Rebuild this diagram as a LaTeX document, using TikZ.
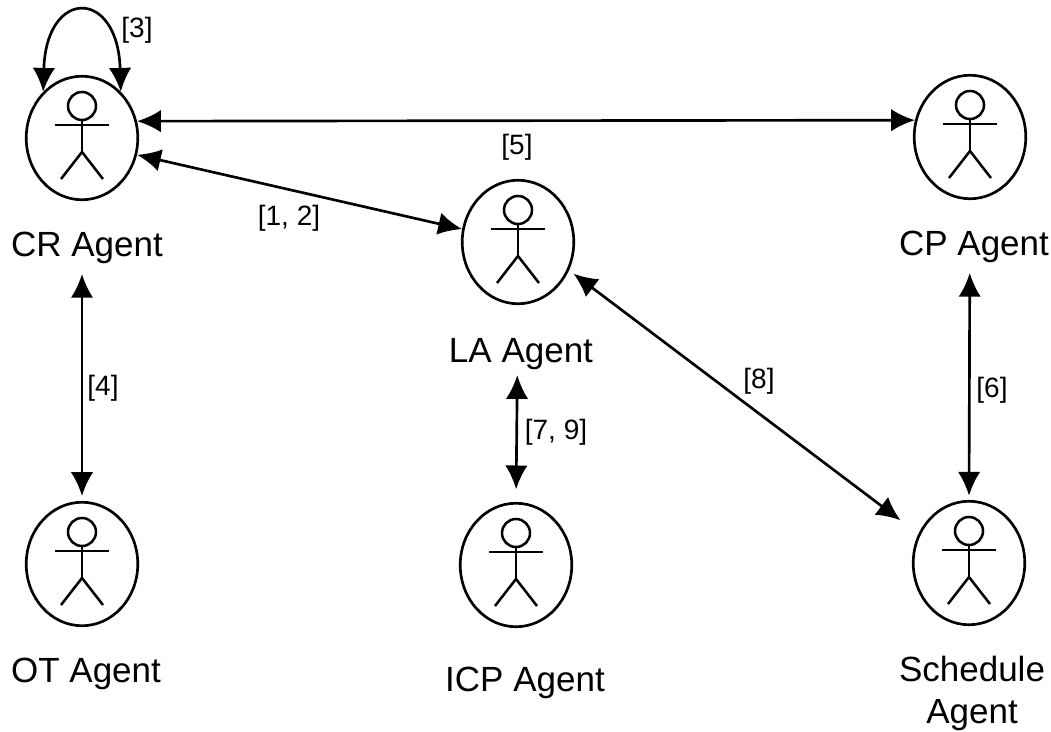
\documentclass[tikz,border=0pt]{standalone}
\usepackage{fontspec}
\setmainfont{Liberation Sans}
\usetikzlibrary{arrows.meta,shapes.geometric,calc}
\tikzset{
    actorbox/.style={draw, line width=1.9pt, ellipse, minimum width=2.8cm, minimum height=3.1cm, inner sep=0pt},
    link/.style={line width=1.9pt, {Latex[length=17pt,width=16pt]}-{Latex[length=17pt,width=16pt]}},
    agentname/.style={font=\fontsize{25}{29.7}\selectfont, align=center, anchor=base},
    numlabel/.style={font=\fontsize{20}{24}\selectfont},
}
\newcommand{\stickman}[1]{
    \draw[line width=1.8pt] ($(#1)+(0,-32)$) circle (14);
    \draw[line width=1.8pt] ($(#1)+(0,-18)$) -- ($(#1)+(0,14)$);
    \draw[line width=1.8pt] ($(#1)+(-27,-13)$) -- ($(#1)+(27,-13)$);
    \draw[line width=1.8pt] ($(#1)+(-21,41)$) -- ($(#1)+(0,14)$) -- ($(#1)+(21,41)$);
}
\begin{document}
\begin{tikzpicture}[x=0.0251cm,y=-0.0251cm]

    \useasboundingbox (0,0) rectangle (1051,732);

    \node[actorbox] (cr) at (82,138) {};
    \node[actorbox] (cp) at (970,137) {};
    \node[actorbox] (la) at (518,242) {};
    \node[actorbox] (ot) at (82,564) {};
    \node[actorbox] (icp) at (516,565) {};
    \node[actorbox] (sched) at (969,563) {};

    \node[agentname] (crname) at (87,256) {CR Agent};
    \node[agentname] (cpname) at (974,255) {CP Agent};
    \node[agentname] (laname) at (521,362) {LA Agent};
    \node[agentname] (otname) at (86,682) {OT Agent};
    \node[agentname] (icpname) at (525,691) {ICP Agent};
    \node[agentname] (schedname) at (972,723) {Schedule\\Agent};

    \foreach \who in {cr,cp,la,ot,icp,sched} {
        \stickman{\who}
    }

    \draw[link] (cr.130) .. controls +(3,-104) and +(-3,-104) .. (cr.50);
    \draw[link] (cr.17) -- (cp.163);
    \draw[link] (cr.-17) -- (la.167);
    \draw[link, shorten <=4pt, shorten >=16pt] (la.-29) -- (sched.150);
    \draw[link, shorten <=52pt, shorten >=3.5pt] (cr.south) -- (ot.north);
    \draw[link, shorten <=52pt, shorten >=3pt] (cp.south) -- (sched.north);
    \draw[link, shorten <=50pt, shorten >=9pt] (la.south) -- (icp.north);

    \node[numlabel] (n3) at (137,30) {[3]};
    \node[numlabel] (n12) at (289,218) {[1, 2]};
    \node[numlabel] (n5) at (517,147) {[5]};
    \node[numlabel] (n4) at (103,388) {[4]};
    \node[numlabel] (n79) at (556,432) {[7, 9]};
    \node[numlabel] (n8) at (759,381) {[8]};
    \node[numlabel] (n6) at (992,390) {[6]};

\end{tikzpicture}
\end{document}
